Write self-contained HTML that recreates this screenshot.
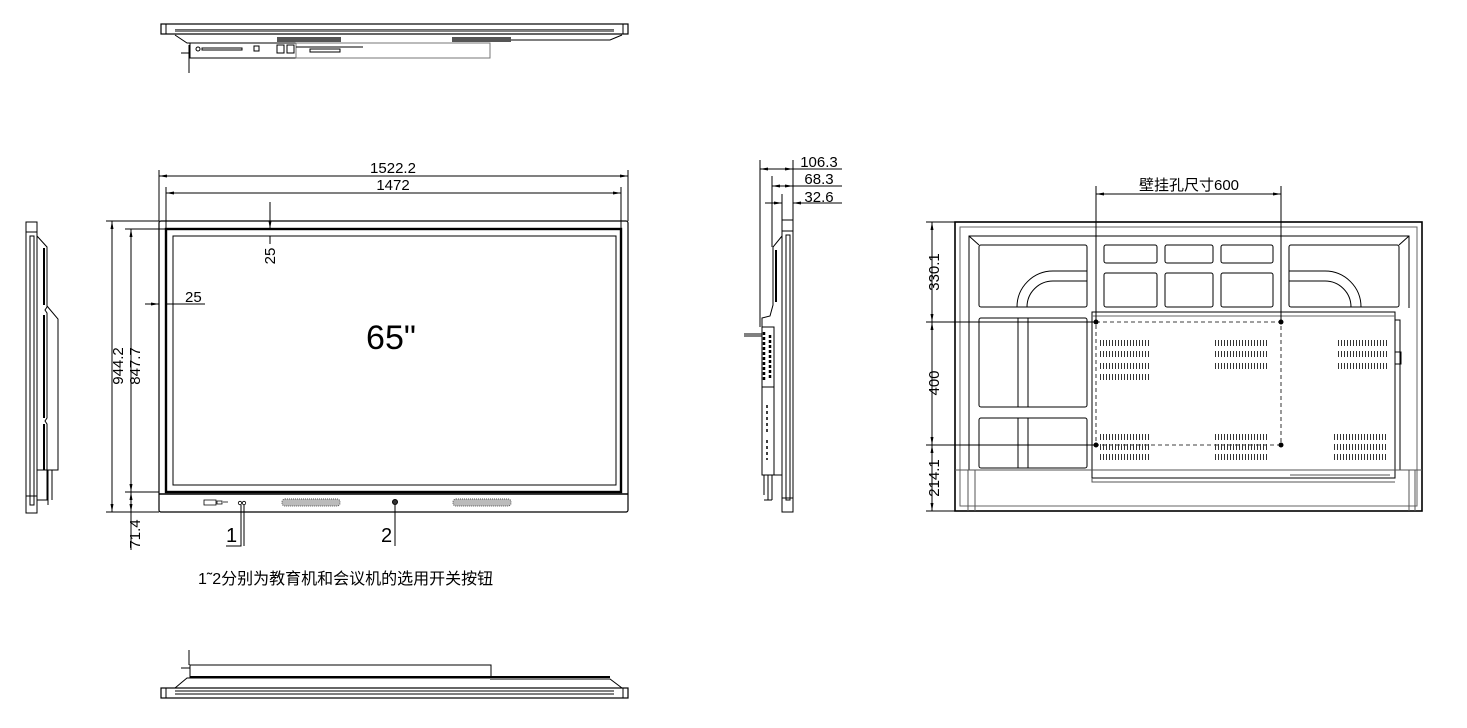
<!DOCTYPE html>
<html><head><meta charset="utf-8"><style>
html,body{margin:0;padding:0;background:#fff}
svg{display:block}
text{font-family:"Liberation Sans","Noto Sans CJK SC",sans-serif;fill:#000}
</style></head><body>
<svg width="1467" height="728" viewBox="0 0 1467 728" xmlns="http://www.w3.org/2000/svg">
<defs>
<marker id="a" markerWidth="8" markerHeight="6" refX="8" refY="3" orient="auto-start-reverse" markerUnits="userSpaceOnUse"><path d="M0,1.5 L8,3 L0,4.5z" fill="#000"/></marker>
</defs>
<g fill="none" stroke="#000" stroke-width="1">
<!-- TOP VIEW -->
<rect x="161" y="24" width="467" height="10" stroke-width="1.2"/>
<line x1="175" y1="31" x2="614" y2="31"/>
<line x1="175" y1="29.5" x2="614" y2="29.5" stroke="#666"/>
<line x1="166" y1="24" x2="166" y2="34"/><line x1="623" y1="24" x2="623" y2="34"/>
<path d="M175,35 L187,43 L490,43 M490,40 L610,40 L622,35"/>
<rect x="277" y="37" width="64" height="5" fill="#555" stroke="none"/>
<rect x="452" y="37" width="59" height="5" fill="#555" stroke="none"/>
<rect x="190" y="43" width="106" height="15"/>
<rect x="296" y="43" width="194" height="15" stroke="#777"/>
<circle cx="198" cy="49" r="2"/>
<rect x="202" y="48" width="40" height="2"/>
<rect x="254" y="46" width="5" height="5"/>
<rect x="277" y="45" width="7" height="8"/><rect x="287" y="45" width="7" height="8"/>
<rect x="310" y="49" width="30" height="3"/>
<line x1="296" y1="47" x2="363" y2="47"/>
<path d="M181,53 L190,53 M189,45 L189,73"/>
<!-- BOTTOM VIEW -->
<path d="M189,650 L189,665"/>
<path d="M181,668 L190,668"/>
<rect x="190" y="665" width="301" height="12"/>
<path d="M175,688 L187,678 L490,678 M490,679 L610,679 L622,688"/>
<line x1="190" y1="677" x2="610" y2="677" stroke-width="2"/>
<rect x="161" y="688" width="467" height="10" stroke-width="1.2"/>
<line x1="175" y1="691" x2="614" y2="691"/><line x1="175" y1="694" x2="614" y2="694"/>
<line x1="166" y1="688" x2="166" y2="698"/><line x1="623" y1="688" x2="623" y2="698"/>
<!-- LEFT SIDE VIEW -->
<rect x="26" y="222" width="11" height="291"/>
<rect x="30" y="236" width="4" height="269"/>
<line x1="26" y1="232" x2="37" y2="232"/><line x1="26" y1="496" x2="37" y2="496"/>
<path d="M37,236 L47,247 L47,307 L45,310 L47,313 L47,418 L45,421 L47,424 L47,470"/>
<path d="M44,248 L44,305 M44,315 L44,418 M44,424 L44,470" stroke-width="2"/>
<path d="M47,306 L58,319 L58,470 L47,470"/>
<path d="M37,470 L47,470 L47,500 L37,500 M48,470 L48,505 M52,470 L52,500"/>
<!-- FRONT VIEW -->
<rect x="159" y="221" width="469" height="291" rx="2" stroke-width="1.2"/>
<rect x="166" y="229" width="455" height="263" stroke-width="2.4"/>
<rect x="173" y="236" width="443" height="249"/>
<line x1="159" y1="494" x2="628" y2="494" stroke-width="1.6"/>
<rect x="282" y="499" width="58" height="7" fill="#bbb" stroke="#555" rx="3" stroke-dasharray="1 1"/>
<rect x="453" y="499" width="58" height="7" fill="#bbb" stroke="#555" rx="3" stroke-dasharray="1 1"/>
<circle cx="395" cy="502" r="2.5" fill="#333"/>
<path d="M204,500 h12 v5 h-12z M217,501 h5 v3 h-5z M223,502 h5" stroke-width="0.8"/>
<circle cx="240" cy="503" r="1.7" stroke-width="0.8"/><circle cx="244" cy="503" r="1.7" stroke-width="0.8"/>
<path d="M241,505 L241,546 L226,546 M244,505 L244,546"/>
<path d="M395,505 L395,546"/>
<!-- dims front -->
<path d="M159,221 V170 M628,221 V170 M166,229 V187 M621,229 V187"/>
<line x1="159" y1="176" x2="628" y2="176" marker-start="url(#a)" marker-end="url(#a)"/>
<line x1="166" y1="193" x2="621" y2="193" marker-start="url(#a)" marker-end="url(#a)"/>
<path d="M159,221 H106 M166,229 H125 M159,512 H106 M159,492 H125"/>
<line x1="112" y1="221" x2="112" y2="512" marker-start="url(#a)" marker-end="url(#a)"/>
<line x1="131" y1="229" x2="131" y2="492" marker-start="url(#a)" marker-end="url(#a)"/>
<line x1="131" y1="492" x2="131" y2="512" marker-start="url(#a)" marker-end="url(#a)"/>
<line x1="131" y1="512" x2="131" y2="550"/>
<line x1="270" y1="202" x2="270" y2="229" marker-end="url(#a)"/>
<line x1="270" y1="236" x2="270" y2="244"/>
<line x1="145" y1="304" x2="159" y2="304" marker-end="url(#a)"/>
<line x1="166" y1="304" x2="205" y2="304"/>
<!-- RIGHT SIDE VIEW -->
<rect x="782" y="220" width="11" height="292"/>
<rect x="786" y="235" width="4" height="265"/>
<line x1="782" y1="231" x2="793" y2="231"/><line x1="782" y1="498" x2="793" y2="498"/>
<path d="M782,236 L773,247 L773,305 L770,316 L762,318 L762,327"/>
<path d="M776,250 L776,302" stroke-width="2"/>
<rect x="762" y="327" width="12" height="60"/>
<rect x="762" y="387" width="12" height="88"/>
<path d="M764,332 v50 M770,335 v45" stroke-width="2.5" stroke-dasharray="3 2"/>
<path d="M744,334 L762,334 M744,336 L762,336"/>
<path d="M767,405 v30 M767,440 v20" stroke-width="1.5" stroke-dasharray="3 3"/>
<path d="M762,475 L782,475 M764,475 v20 M768,475 v25 M772,475 v25 M764,500 h8"/>
<!-- side dims -->
<path d="M760,327 V160 M772,247 V176 M782,220 V194 M793,220 V160"/>
<line x1="760" y1="169" x2="793" y2="169" marker-start="url(#a)" marker-end="url(#a)"/>
<line x1="772" y1="186" x2="793" y2="186" marker-start="url(#a)" marker-end="url(#a)"/>
<line x1="765" y1="203" x2="782" y2="203" marker-end="url(#a)"/>
<line x1="799" y1="203" x2="793" y2="203" marker-end="url(#a)"/>
<path d="M793,169 H842 M793,186 H842 M799,203 H842"/>
<!-- BACK VIEW -->
<rect x="955" y="222" width="467" height="289" stroke-width="1.6"/>
<rect x="960" y="227" width="457" height="279" stroke="#666"/>
<path d="M969,308 L969,236 L1409,236 L1409,308" />
<path d="M969,236 L979,245 M1409,236 L1399,245"/>
<rect x="979" y="245" width="108" height="62" rx="2"/>
<path d="M1017,307 A 36 36 0 0 1 1053,271 L1087,271 M1027,307 A 26 26 0 0 1 1053,281 L1087,281"/>
<rect x="1104" y="245" width="53" height="18" rx="2"/>
<rect x="1165" y="245" width="48" height="18" rx="2"/>
<rect x="1221" y="245" width="52" height="18" rx="2"/>
<rect x="1104" y="273" width="53" height="34" rx="2"/>
<rect x="1165" y="273" width="48" height="34" rx="2"/>
<rect x="1221" y="273" width="52" height="34" rx="2"/>
<rect x="1289" y="245" width="110" height="62" rx="2"/>
<path d="M1361,307 A 36 36 0 0 0 1325,271 L1289,271 M1351,307 A 26 26 0 0 0 1325,281 L1289,281"/>
<rect x="979" y="318" width="108" height="89" rx="2"/>
<rect x="979" y="418" width="108" height="50" rx="2"/>
<rect x="1018" y="318" width="10" height="89"/>
<rect x="1018" y="418" width="10" height="50"/>
<line x1="969" y1="308" x2="969" y2="470"/>
<rect x="1092" y="312" width="303" height="166"/>
<line x1="1092" y1="316" x2="1395" y2="316" stroke="#666"/>
<path d="M1395,320 L1400,320 L1400,470 L1395,470"/>
<path d="M1395,352 h6 v12 h-6"/>
<rect x="1096" y="322" width="185" height="123" stroke-dasharray="4 3" stroke-width="0.8"/>
<path d="M955,470 H1422 M968,470 V511 M975,470 V511 M1409,470 V511 M1415,470 V511" stroke="#555"/>
<path d="M1092,478 L1092,482 L1395,482 M1290,475 h100" stroke="#555"/>
<g stroke-width="6" stroke-dasharray="1 2" stroke="#333">
<path d="M1100,343 h50 M1100,354 h50 M1100,366 h50 M1100,377 h50 M1215,343 h54 M1215,354 h54 M1215,366 h54 M1338,343 h50 M1338,354 h50 M1338,366 h50"/>
<path d="M1100,437 h50 M1100,447 h50 M1100,457 h50 M1215,437 h54 M1215,447 h54 M1215,457 h54 M1334,437 h54 M1334,447 h54 M1334,457 h54"/>
</g>
<g fill="#000" stroke="none">
<circle cx="1096" cy="322" r="2.5"/><circle cx="1281" cy="322" r="2.5"/>
<circle cx="1096" cy="445" r="2.5"/><circle cx="1281" cy="445" r="2.5"/>
</g>
<!-- back dims -->
<path d="M1096,322 V186 M1281,322 V186"/>
<line x1="1096" y1="194" x2="1281" y2="194" marker-start="url(#a)" marker-end="url(#a)"/>
<path d="M955,222 H926 M1096,322 H926 M1096,445 H926 M955,511 H926"/>
<line x1="932" y1="222" x2="932" y2="322" marker-start="url(#a)" marker-end="url(#a)"/>
<line x1="932" y1="322" x2="932" y2="445" marker-start="url(#a)" marker-end="url(#a)"/>
<line x1="932" y1="445" x2="932" y2="511" marker-start="url(#a)" marker-end="url(#a)"/>
</g>
<!-- TEXT -->
<g font-size="15">
<text x="393" y="173" text-anchor="middle">1522.2</text>
<text x="393" y="190" text-anchor="middle">1472</text>
<text transform="translate(275,256) rotate(-90)" text-anchor="middle">25</text>
<text x="185" y="302">25</text>
<text transform="translate(123,366) rotate(-90)" text-anchor="middle">944.2</text>
<text transform="translate(140,366) rotate(-90)" text-anchor="middle">847.7</text>
<text transform="translate(140,534) rotate(-90)" text-anchor="middle">71.4</text>
<text x="819" y="167" text-anchor="middle">106.3</text>
<text x="819" y="184" text-anchor="middle">68.3</text>
<text x="819" y="202" text-anchor="middle">32.6</text>
<text x="1189" y="190" text-anchor="middle">壁挂孔尺寸600</text>
<text transform="translate(939,272) rotate(-90)" text-anchor="middle">330.1</text>
<text transform="translate(939,383) rotate(-90)" text-anchor="middle">400</text>
<text transform="translate(939,478) rotate(-90)" text-anchor="middle">214.1</text>
</g>
<text x="198" y="584" font-size="16">1˜2分别为教育机和会议机的选用开关按钮</text>
<text x="226" y="542" font-size="20">1</text>
<text x="381" y="542" font-size="20">2</text>
<text x="391" y="349" font-size="34" text-anchor="middle">65"</text>
</svg>
</body></html>
